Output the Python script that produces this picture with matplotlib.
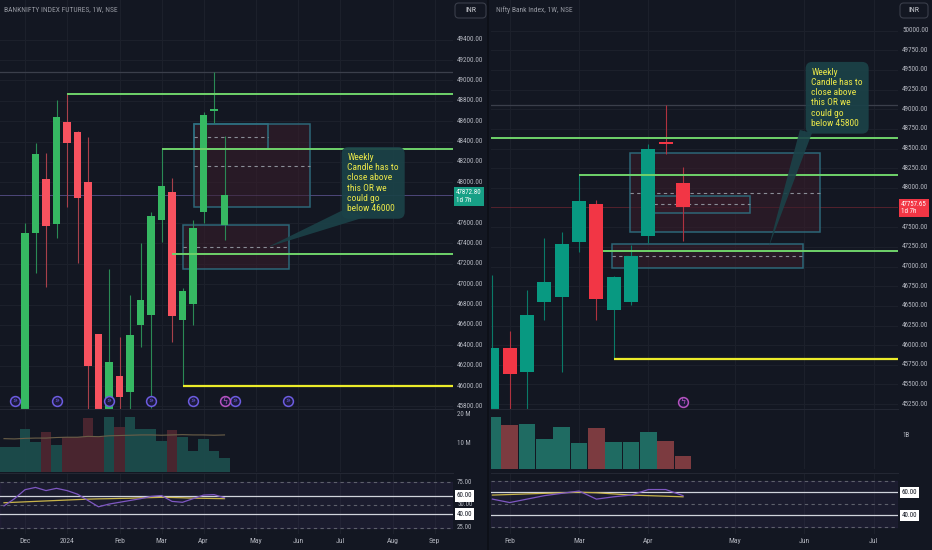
import matplotlib
matplotlib.use("Agg")
import matplotlib.pyplot as plt
import matplotlib.font_manager as fm
from matplotlib.font_manager import FontProperties
from matplotlib.patches import Rectangle, Polygon, FancyBboxPatch
from matplotlib.transforms import blended_transform_factory as blend

# ---------------- data: left chart (BANKNIFTY futures, weekly) ----------------
left_idx = list(range(-2, 20))
left_open  = [43600, 43950, 44650, 47502, 48032, 47590, 48591, 48493, 48003, 46512, 45150, 46099,
              45942, 46600, 46698, 47629, 47904, 46649, 46806, 47708, 48700, 47581]
left_high  = [44150, 44650, 47600, 48385, 48287, 48807, 48876, 48500, 48444, 46512, 47149, 46481,
              46893, 47404, 47708, 48336, 48042, 46960, 47630, 48689, 49082, 48453]
left_low   = [43450, 43800, 44550, 47110, 46973, 47453, 47757, 47208, 45650, 44600, 44700, 45300,
              45350, 46384, 45784, 47414, 46433, 46000, 46600, 47600, 48581, 47434]
left_close = [43950, 44550, 47502, 48277, 47571, 48640, 48385, 47846, 46197, 45100, 46235, 45893,
              46500, 46846, 47669, 47963, 46688, 46934, 47552, 48659, 48715, 47872.8]
left_vol   = [8.8, 8.8, 15.1, 10.5, 14.0, 9.5, 12.3, 12.3, 19.0, 12.3, 19.3, 15.8,
              19.3, 15.1, 15.1, 10.9, 14.7, 12.3, 7.4, 11.6, 7.4, 4.9]
left_vol_ma = [11.7, 11.6, 11.8, 11.9, 11.9, 12.1, 12.2, 12.2, 12.5, 12.4, 12.7, 12.8,
               12.9, 13.0, 13.0, 12.9, 13.0, 13.1, 13.0, 13.0, 12.9, 13.0]
left_rsi   = [49, 57, 67, 69.5, 66, 68.5, 66, 62, 55, 48, 51, 53,
              55, 57, 59.5, 60.5, 54, 53, 57, 61, 61.5, 58]
left_rsi_ma = [52.5, 53, 53.5, 54, 54.5, 55, 55.5, 56, 56.5, 56.8, 57, 57.3,
               57.5, 58, 58.2, 58.5, 58.3, 58, 57.6, 57.4, 57.2, 57]
left_month_pos = [0, 4, 9, 13, 17, 22, 26, 30, 35, 39]
left_month_lab = ['Dec', '2024', 'Feb', 'Mar', 'Apr', 'May', 'Jun', 'Jul', 'Aug', 'Sep']
left_price_ticks = [49400, 49200, 49000, 48800, 48600, 48400, 48200, 48000, 47600, 47400,
                    47200, 47000, 46800, 46600, 46400, 46200, 46000, 45800]
left_levels_green = [(4, 48865), (13, 48326), (14, 47296)]
left_level_yellow = (15, 46000)
left_high_line = 49082
left_last = 47872.80
left_events = [-1, 3, 8, 12, 16, 20, 25]
left_flash = [19]
# zones: (x0, x1, low, high)
left_zones = [(16.1, 27.14, 47757, 48572), (15.05, 25.14, 47149, 47580)]
left_inner = (16.1, 23.1, 48326, 48572)

# ---------------- data: right chart (Nifty Bank index, weekly) ----------------
right_idx = list(range(0, 12))
right_open  = [45100, 45960, 45662, 46545, 46609, 47312, 47792, 46447, 46545, 47388, 48584, 48059]
right_high  = [46892, 46180, 46702, 47360, 47436, 48165, 47846, 46880, 47274, 48559, 49055, 48270]
right_low   = [44900, 44633, 44800, 46320, 45662, 47189, 46320, 45830, 46510, 47296, 48432, 47329]
right_close = [45968, 45630, 46384, 46807, 47283, 47834, 46583, 46863, 47134, 48491, 48555, 47757.65]
right_vol   = [1.58, 1.32, 1.36, 0.91, 1.26, 0.78, 1.24, 0.83, 0.81, 1.13, 0.85, 0.40]
right_rsi   = [54, 51, 54, 57, 59, 61, 54, 56, 57.5, 62.3, 62.3, 57]
right_rsi_ma = [57.5, 58, 58.5, 59, 59.5, 60, 59.5, 58.5, 57.5, 57, 56.5, 56]
right_month_pos = [1, 5, 9, 14, 18, 22]
right_month_lab = ['Feb', 'Mar', 'Apr', 'May', 'Jun', 'Jul']
right_price_ticks = [50000, 49750, 49500, 49250, 49000, 48750, 48500, 48250, 48000, 47500,
                     47250, 47000, 46750, 46500, 46250, 46000, 45750, 45500, 45250]
right_levels_green = [(-0.1, 48639), (5, 48165), (6.4, 47202)]
right_level_yellow = (7, 45825)
right_high_line = 49055
right_last = 47757.65
right_flash = [11]
right_zones = [(7.94, 18.9, 47436, 48440), (9.34, 14.88, 47677, 47901), (6.9, 17.9, 46978, 47287)]

note_left = "Weekly\nCandle has to\nclose above\nthis OR we\ncould go\nbelow 46000"
note_right = "Weekly\nCandle has to\nclose above\nthis OR we\ncould go\nbelow 45800"

# ---------------- fonts: prefer a narrow sans family by name ----------------
def pick_font():
    wanted = ['Liberation Sans Narrow', 'Roboto Condensed', 'PT Sans Narrow', 'Archivo Narrow',
              'Open Sans Condensed', 'Ubuntu Condensed', 'Fira Sans Condensed',
              'IBM Plex Sans Condensed', 'Encode Sans Condensed', 'Asap Condensed',
              'Barlow Semi Condensed', 'Roboto', 'Liberation Sans']
    fonts = fm.fontManager.ttflist
    for name in wanted:
        cands = [f for f in fonts if f.name == name and f.style == 'normal']
        if not cands:
            continue
        def score(f):
            w = f.weight if isinstance(f.weight, int) else 400
            return abs(w - 400) + (0 if 'italic' not in f.fname.lower() else 1000)
        cands.sort(key=score)
        return cands[0].fname
    return None


FONT_FILE = pick_font()

BG = '#131722'
GRID = '#1c202b'
TXT = '#b2b5be'
W, H = 932, 550
fig = plt.figure(figsize=(W / 100, H / 100), dpi=100, facecolor=BG)
renderer = fig.canvas.get_renderer()


def fp_fit(sample, target_px):
    base = FontProperties(fname=FONT_FILE, size=10) if FONT_FILE else FontProperties(family='DejaVu Sans', size=10)
    t = fig.text(0, 0, sample, fontproperties=base)
    w = t.get_window_extent(renderer).width
    t.remove()
    p = base.copy()
    p.set_size(10 * target_px / w)
    return p


FP_AX = fp_fit('49400.00', 26.5)
FP_SM = fp_fit('49400.00', 25.5)
FP_TITLE = fp_fit('BANKNIFTY INDEX FUTURES, 1W, NSE', 112)
FP_NOTE = fp_fit('Candle has to', 51)
FP_MON = fp_fit('2024', 15)
FP_INR = fp_fit('INR', 11)


def ax_px(x0, y0, x1, y1):
    a = fig.add_axes([x0 / W, 1 - y1 / H, (x1 - x0) / W, (y1 - y0) / H])
    a.set_facecolor(BG)
    for s in a.spines.values():
        s.set_visible(False)
    a.set_xticks([])
    a.set_yticks([])
    return a


def candles(ax, idx, o, h, l, c, up, dn, wup, wdn, width):
    for i, oo, hh, ll, cc in zip(idx, o, h, l, c):
        col = up if cc >= oo else dn
        wc = wup if cc >= oo else wdn
        ax.vlines(i, ll, hh, color=wc, lw=0.8, zorder=3)
        bot, top = min(oo, cc), max(oo, cc)
        if top - bot < 1:
            top = bot + 1
        ax.add_patch(Rectangle((i - width / 2, bot), width, top - bot, fc=col, ec='none', zorder=4))


def axis_text(ax, val, label, fp, color=TXT, dx=3.0):
    ax.annotate(label, xy=(1.0, val), xycoords=('axes fraction', 'data'), xytext=(dx, 0),
                textcoords='offset points', ha='left', va='center', fontproperties=fp,
                color=color, annotation_clip=False)


def price_labels(ax, ticks):
    for t in ticks:
        ax.axhline(t, color=GRID, lw=0.8, zorder=0)
        axis_text(ax, t, '{:.2f}'.format(t), FP_AX)


def month_grid(axes, pos):
    for a in axes:
        for p in pos:
            a.axvline(p, color=GRID, lw=0.8, zorder=0)


def event_icons(ax, pos, color, sym, yfrac=0.019):
    tr = blend(ax.transData, ax.transAxes)
    for p in pos:
        ax.scatter([p], [yfrac], s=50, marker='o', facecolor='#1c1a3a', edgecolor=color, lw=1.1,
                   transform=tr, zorder=6, clip_on=False)
        ax.text(p, yfrac, sym, transform=tr, color=color, fontsize=5.8, ha='center', va='center',
                zorder=7, family=['DejaVu Sans'])


def zones(ax, zs):
    for x0, x1, lo, hi in zs:
        ax.add_patch(Rectangle((x0, lo), x1 - x0, hi - lo, fc='#3a1d2a', ec='none',
                               alpha=0.55, zorder=2))
        ax.add_patch(Rectangle((x0, lo), x1 - x0, hi - lo, fc='none', ec='#2e6f80', lw=1.1,
                               alpha=0.9, zorder=2))
        ax.hlines((lo + hi) / 2, x0, x1, colors='#8a8d96', lw=0.8, linestyles=(0, (3, 3)), zorder=2)


def last_label(ax, price, color, linecolor, text):
    ax.axhline(price, color=linecolor, lw=0.7, alpha=0.55, zorder=1)
    ax.annotate(text, xy=(1.0, price), xycoords=('axes fraction', 'data'), xytext=(2.2, 4.6),
                textcoords='offset points', ha='left', va='top', fontproperties=FP_SM,
                color='white', linespacing=1.15, annotation_clip=False,
                bbox=dict(boxstyle='square,pad=0.3', fc=color, ec='none'), zorder=10)


def rsi_pane(ax, idx, rsi, ma, top, bot, labels_extra):
    ax.axhspan(bot, top, color='#7e57c2', alpha=0.08, zorder=0)
    for v in (top, 50, bot):
        ax.axhline(v, color='#5d606b', lw=0.8, ls=(0, (3, 3)), zorder=1)
    for v in (60, 40):
        ax.axhline(v, color='#d1d4dc', lw=0.9, zorder=2)
    ax.plot(idx, ma, color='#c8b44a', lw=0.9, zorder=3)
    ax.plot(idx, rsi, color='#7e57c2', lw=0.9, zorder=4)
    for v in labels_extra:
        axis_text(ax, v, '{:.2f}'.format(v), FP_SM)
    for v in (60, 40):
        ax.annotate('{:.2f}'.format(v), xy=(1.0, v), xycoords=('axes fraction', 'data'),
                    xytext=(2.6, 0), textcoords='offset points', ha='left', va='center',
                    fontproperties=FP_SM, color='#131722', annotation_clip=False,
                    bbox=dict(boxstyle='square,pad=0.3', fc='white', ec='none'), zorder=10)


def month_labels(ax, pos, labs):
    ax.set_xticks(pos)
    ax.set_xticklabels(labs)
    ax.tick_params(axis='x', length=0, pad=3, labelcolor=TXT)
    for lab in ax.get_xticklabels():
        lab.set_fontproperties(FP_MON)


def callout(ax, tri, xy, text):
    ax.add_patch(Polygon(tri, closed=True, fc='#1b4248', ec='none', alpha=0.9, zorder=7))
    ax.text(xy[0], xy[1], text, ha='left', va='top', fontproperties=FP_NOTE, color='#ebe84a',
            linespacing=1.18, zorder=8,
            bbox=dict(boxstyle='round,pad=0.6,rounding_size=0.7', fc='#1b4248', ec='none', alpha=0.92))


# ================= LEFT =================
axL = ax_px(0, 0, 453, 409)
axL.set_xlim(-2.381, 40.76)
axL.set_ylim(45775, 49789)
axLv = ax_px(0, 409, 453, 472)
axLv.set_xlim(-2.381, 40.76)
axLv.set_ylim(0, 22.1)
axLr = ax_px(0, 474, 453, 534)
axLr.set_xlim(-2.381, 40.76)
axLr.set_ylim(17.8, 84.4)

price_labels(axL, left_price_ticks)
month_grid([axL, axLv, axLr], left_month_pos)
axL.axhline(left_high_line, color='#3b3f4b', lw=0.9, zorder=1)
zones(axL, left_zones)
x0, x1, lo, hi = left_inner
axL.add_patch(Rectangle((x0, lo), x1 - x0, hi - lo, fc='none', ec='#2e6f80', lw=1.1, zorder=2))
axL.hlines((lo + hi) / 2, x0, x1, colors='#8a8d96', lw=0.8, linestyles=(0, (3, 3)), zorder=2)
candles(axL, left_idx, left_open, left_high, left_low, left_close,
        '#36b862', '#f7525f', '#2a8a55', '#a8404a', 0.68)
xmaxL = axL.get_xlim()[1]
for s, p in left_levels_green:
    axL.hlines(p, s, xmaxL, colors='#6fd36a', lw=1.4, zorder=5)
axL.hlines(left_level_yellow[1], left_level_yellow[0], xmaxL, colors='#ecec2a', lw=1.6, zorder=5)
last_label(axL, left_last, '#17a086', '#7e6fc2', '{:.2f}\n1d 7h'.format(left_last))
event_icons(axL, left_events, '#6c5ce0', '»')
event_icons(axL, left_flash, '#b552c0', 'ϟ')
callout(axL, [(30.3, 47728), (32.4, 47659), (23.14, 47365)], (30.7, 48290), note_left)

for i, o, c, v in zip(left_idx, left_open, left_close, left_vol):
    col = '#1c4c4c' if c >= o else '#4d2630'
    axLv.bar(i, v, width=1.0, color=col, alpha=0.95, zorder=2)
axLv.plot(left_idx, left_vol_ma, color='#6b5f48', lw=0.8, zorder=3)
for v, lab in ((20, '20 M'), (10, '10 M')):
    axis_text(axLv, v, lab, FP_SM)

rsi_pane(axLr, left_idx, left_rsi, left_rsi_ma, 75, 25, [75, 50, 25])
month_labels(axLr, left_month_pos, left_month_lab)

# ================= RIGHT =================
axR = ax_px(491, 0, 898, 409)
axR.set_xlim(-0.081, 23.4)
axR.set_ylim(45188, 50390)
axRv = ax_px(491, 409, 898, 469)
axRv.set_xlim(-0.081, 23.4)
axRv.set_ylim(0, 1.818)
axRr = ax_px(491, 474, 898, 534)
axRr.set_xlim(-0.081, 23.4)
axRr.set_ylim(23.7, 75.8)

price_labels(axR, right_price_ticks)
month_grid([axR, axRv, axRr], right_month_pos)
axR.axhline(right_high_line, color='#3b3f4b', lw=0.9, zorder=1)
zones(axR, right_zones)
candles(axR, right_idx, right_open, right_high, right_low, right_close,
        '#089981', '#f23645', '#0a7a68', '#b0323f', 0.8)
xmaxR = axR.get_xlim()[1]
for s, p in right_levels_green:
    axR.hlines(p, s, xmaxR, colors='#6fd36a', lw=1.4, zorder=5)
axR.hlines(right_level_yellow[1], right_level_yellow[0], xmaxR, colors='#ecec2a', lw=1.6, zorder=5)
last_label(axR, right_last, '#f23645', '#8a2a36', '{:.2f}\n1d 7h'.format(right_last))
event_icons(axR, right_flash, '#b552c0', 'ϟ', yfrac=0.018)
callout(axR, [(17.74, 48737), (18.44, 48699), (15.94, 47245)], (18.4, 49530), note_right)

for i, o, c, v in zip(right_idx, right_open, right_close, right_vol):
    col = '#1f6b62' if c >= o else '#7c3b40'
    axRv.bar(i, v, width=0.96, color=col, zorder=2)
axis_text(axRv, 1.0, '1B', FP_SM)

rsi_pane(axRr, right_idx, right_rsi, right_rsi_ma, 70, 30, [])
month_labels(axRr, right_month_pos, right_month_lab)

# ================= chrome =================
fig.text(4 / W, 1 - 10 / H, 'BANKNIFTY INDEX FUTURES, 1W, NSE', fontproperties=FP_TITLE,
         color='#9598a1', ha='left', va='center')
fig.text(496 / W, 1 - 10 / H, 'Nifty Bank Index, 1W, NSE', fontproperties=FP_TITLE,
         color='#9598a1', ha='left', va='center')
for bx0, bx1 in ((455, 486), (900, 928)):
    fig.add_artist(FancyBboxPatch((bx0 / W, 1 - 18 / H), (bx1 - bx0) / W, 15 / H,
                                  boxstyle='round,pad=0,rounding_size=0.004',
                                  mutation_aspect=W / H, transform=fig.transFigure,
                                  fc=BG, ec='#3a3e4a', lw=0.8))
    fig.text((bx0 + bx1) / 2 / W, 1 - 10.5 / H, 'INR', fontproperties=FP_INR, color='#c8cad0',
             ha='center', va='center')
for yy in (409, 473):
    fig.add_artist(plt.Line2D([0, 453 / W], [1 - yy / H] * 2, color='#232733', lw=0.8))
    fig.add_artist(plt.Line2D([491 / W, 898 / W], [1 - yy / H] * 2, color='#232733', lw=0.8))
fig.add_artist(plt.Line2D([488.5 / W] * 2, [0, 1], color='#0c0f16', lw=1.2))

fig.savefig('out.png', dpi=100, facecolor=BG)
